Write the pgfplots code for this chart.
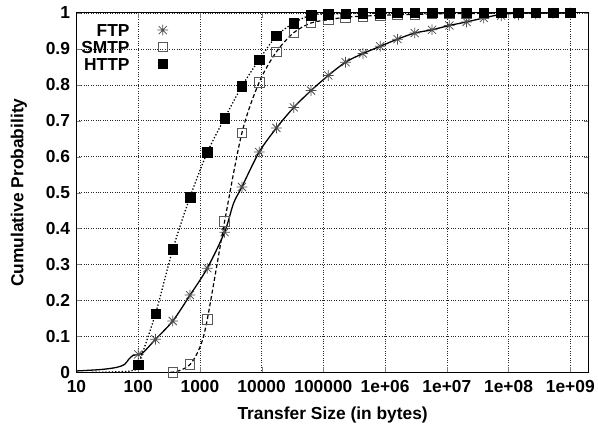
\documentclass[border=0pt]{standalone}
\usepackage{fontspec}
\setmainfont{Liberation Sans}
\usepackage{pgfplots}
\pgfplotsset{compat=1.18}

% gnuplot style "*" : plus and cross together
\pgfdeclareplotmark{gpstar}{%
  \pgfpathmoveto{\pgfqpoint{-\pgfplotmarksize}{0pt}}%
  \pgfpathlineto{\pgfqpoint{\pgfplotmarksize}{0pt}}%
  \pgfpathmoveto{\pgfqpoint{0pt}{-\pgfplotmarksize}}%
  \pgfpathlineto{\pgfqpoint{0pt}{\pgfplotmarksize}}%
  \pgfpathmoveto{\pgfqpoint{-0.75\pgfplotmarksize}{-0.75\pgfplotmarksize}}%
  \pgfpathlineto{\pgfqpoint{0.75\pgfplotmarksize}{0.75\pgfplotmarksize}}%
  \pgfpathmoveto{\pgfqpoint{-0.75\pgfplotmarksize}{0.75\pgfplotmarksize}}%
  \pgfpathlineto{\pgfqpoint{0.75\pgfplotmarksize}{-0.75\pgfplotmarksize}}%
  \pgfusepathqstroke}

% marks sit at x = 10^(2+0.28k), k = 0..25
\pgfplotstableread{
x          ftp    smtp   http
100        0.050  nan    0.022
190.5      0.092  nan    0.163
363        0.143  0.000  0.342
692        0.215  0.022  0.488
1318       0.290  0.148  0.612
2512       0.390  0.420  0.707
4786       0.516  0.666  0.796
9120       0.613  0.807  0.870
17378      0.680  0.892  0.936
33113      0.737  0.945  0.972
63096      0.784  0.972  0.994
120226     0.826  0.981  0.997
229087     0.863  0.988  0.998
436516     0.887  0.991  0.999
831764     0.907  0.993  0.999
1584893    0.927  0.995  1.000
3019952    0.944  0.996  1.000
5754399    0.953  0.997  1.000
10964782   0.965  0.998  1.000
20892961   0.975  0.998  1.000
39810717   0.986  0.999  1.000
75857758   0.992  1.000  1.000
144543977  0.995  1.000  1.000
275422870  0.997  1.000  1.000
524807460  0.999  1.000  1.000
1000000000 1.000  1.000  1.000
}\marks

\begin{document}
\begin{tikzpicture}
\begin{axis}[
  name=ax,
  xmode=log,
  scale only axis,
  width=516pt, height=362pt,
  xmin=10, xmax=2e9,
  ymin=0, ymax=1,
  xtick={10,100,1000,10000,100000,1e6,1e7,1e8,1e9},
  xticklabels={10,100,1000,10000,100000,1e+06,1e+07,1e+08,1e+09},
  ytick={0,0.1,0.2,0.3,0.4,0.5,0.6,0.7,0.8,0.9,1},
  yticklabels={0,0.1,0.2,0.3,0.4,0.5,0.6,0.7,0.8,0.9,1},
  xminorticks=false,
  tick align=inside,
  major tick length=5pt,
  grid=major,
  major grid style={dotted, black!85, line width=0.6pt},
  axis line style={line width=1pt},
  tick label style={font=\bfseries\fontsize{17.5}{20}\selectfont},
  xticklabel style={yshift=-5pt},
  yticklabel style={xshift=-3pt},
  label style={font=\bfseries\fontsize{17.5}{20}\selectfont},
  xlabel={Transfer Size (in bytes)},
  ylabel={Cumulative Probability},
  xlabel style={yshift=-7pt},
  ylabel style={yshift=12pt},
  clip mode=individual,
  legend plot pos=right,
  legend cell align=right,
  legend style={draw=none, fill=none, at={(0.185,0.979)}, anchor=north east,
    font=\bfseries\fontsize{17.5}{20}\selectfont,
    nodes={inner sep=1pt, text height=13pt, text depth=0pt},
    row sep=2pt,
    /tikz/every odd column/.append style={column sep=27pt}},
]
% FTP
\addplot[black, line width=1.3pt, smooth, forget plot] coordinates {
  (10,0.004) (25,0.008) (45,0.014) (60,0.022) (70,0.036) (82,0.047)
  (100,0.050) (120,0.055) (190.5,0.092) (363,0.143) (692,0.215)
  (1318,0.290) (2512,0.390) (3500,0.470) (4786,0.516) (9120,0.613)
  (17378,0.680) (33113,0.737) (63096,0.784) (120226,0.826) (229087,0.863)
  (436516,0.887) (831764,0.907) (1584893,0.927) (3019952,0.944)
  (5754399,0.953) (10964782,0.965) (20892961,0.975) (39810717,0.986)
  (75857758,0.996) (144543977,0.999) (275422870,1.000) (1000000000,1.000)};
\addplot[only marks, mark=gpstar, mark size=5.4pt, black!70, line width=0.75pt]
  table[x=x, y=ftp] {\marks};
\addlegendentry{FTP}
% SMTP
\addplot[black, line width=1.2pt, dash pattern=on 4pt off 2.5pt, smooth, forget plot] coordinates {
  (330,0.000) (450,0.004) (692,0.022) (1000,0.070) (1318,0.148)
  (2512,0.420) (4786,0.666) (9120,0.807) (17378,0.892) (33113,0.945)
  (63096,0.972) (120226,0.981) (229087,0.988) (436516,0.991)
  (831764,0.993) (1584893,0.995) (3019952,0.996) (5754399,0.997)
  (10964782,0.998) (20892961,0.998) (39810717,0.999) (75857758,1.000)
  (1000000000,1.000)};
\addplot[only marks, mark=square, mark size=4.8pt, black!65, line width=0.75pt]
  table[x=x, y=smtp] {\marks};
\addlegendentry{SMTP}
% HTTP
\addplot[black, line width=1.3pt, dotted, smooth, forget plot] coordinates {
  (18,0.000) (50,0.002) (80,0.005) (100,0.022) (190.5,0.163)
  (363,0.342) (692,0.488) (1318,0.612) (2512,0.707) (4786,0.796)
  (9120,0.870) (17378,0.936) (33113,0.972) (63096,0.994) (120226,0.997)
  (229087,0.998) (436516,0.999) (831764,0.999) (1584893,1.000)
  (1000000000,1.000)};
\addplot[only marks, mark=square*, mark size=4.8pt, black]
  table[x=x, y=http] {\marks};
\addlegendentry{HTTP}
\end{axis}
% keep the reference's margins left of and above the frame
\path ([yshift=13pt]ax.north) ([xshift=-77pt]ax.west);
\end{tikzpicture}
\end{document}
